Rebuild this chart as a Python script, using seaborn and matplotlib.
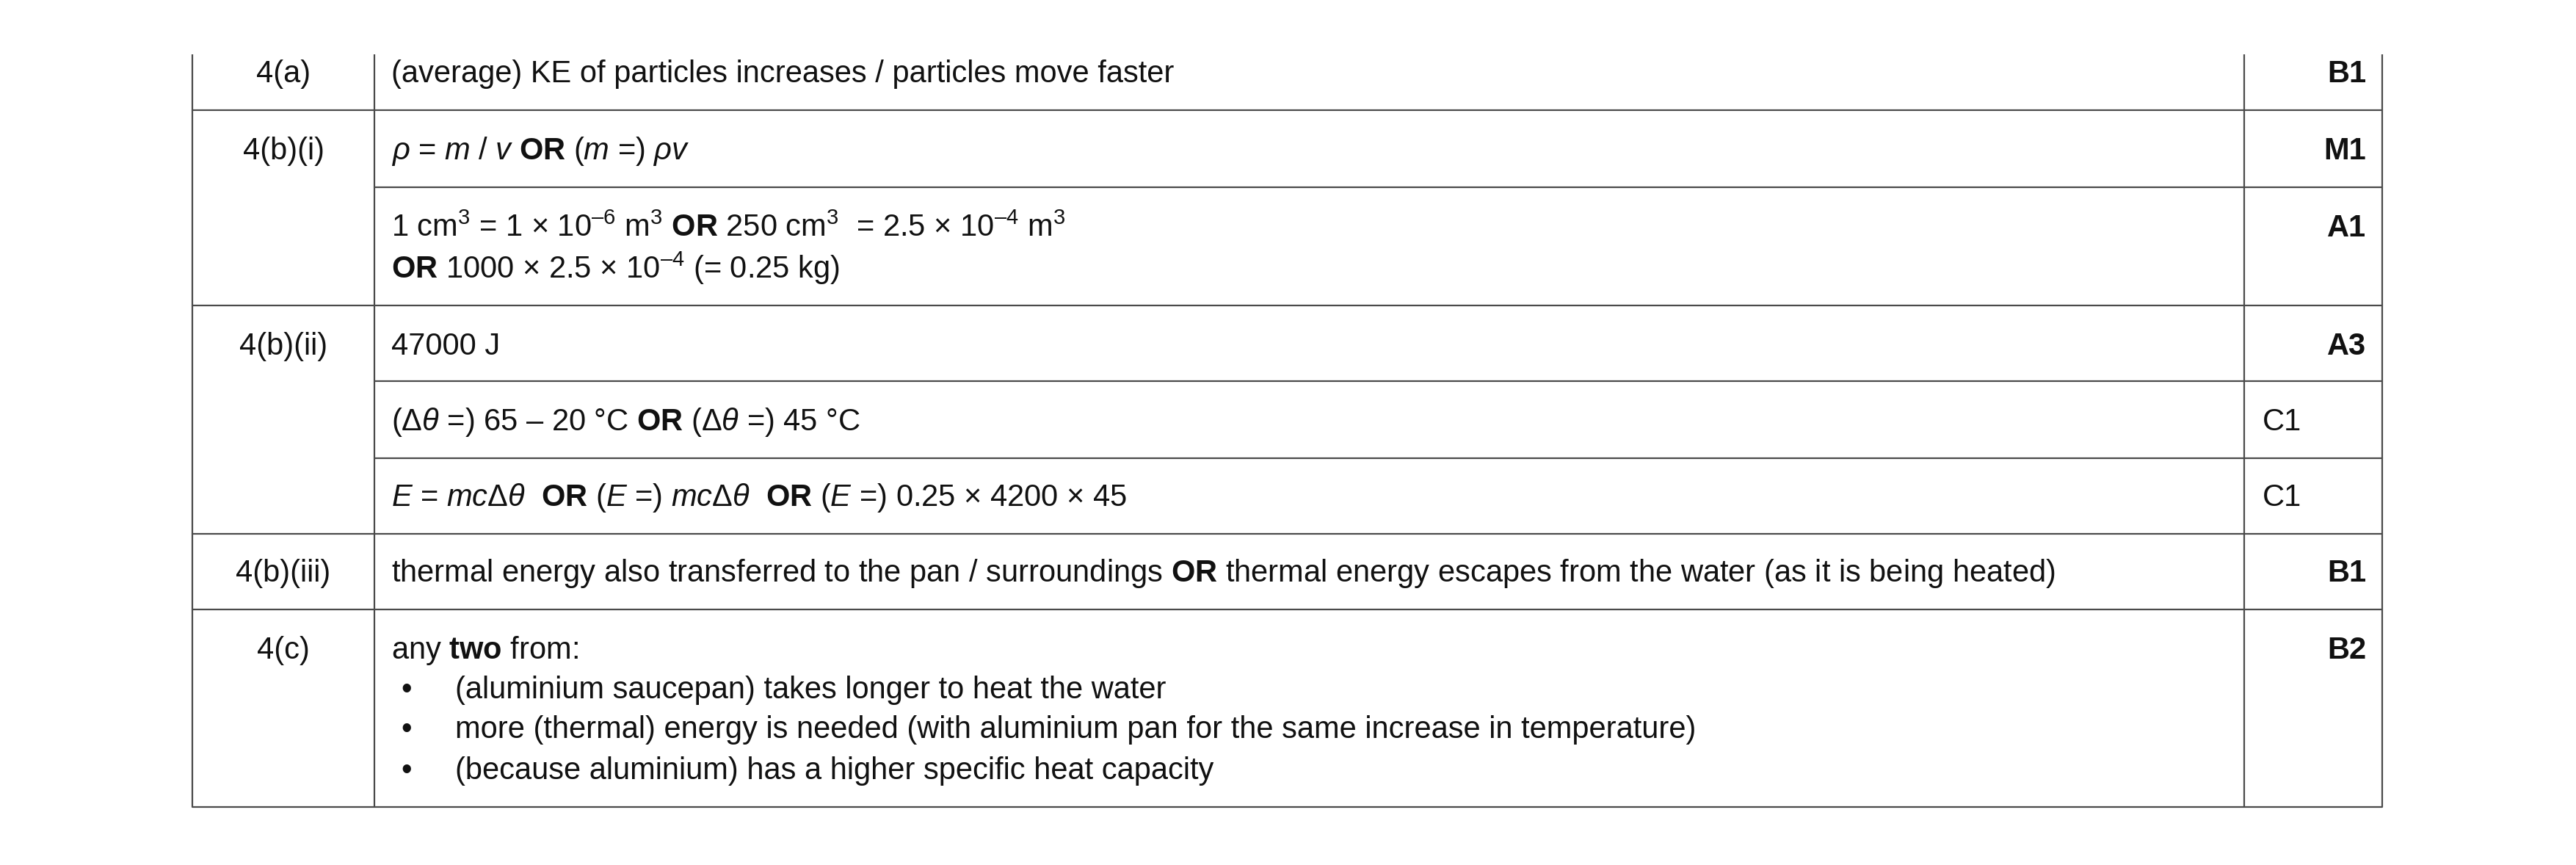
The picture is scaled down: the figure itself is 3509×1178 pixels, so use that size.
import matplotlib
matplotlib.use("Agg")
import matplotlib.pyplot as plt
import seaborn as sns

sns.set_theme(style="white")
plt.rcParams['font.family'] = ['Liberation Sans', 'DejaVu Sans']
plt.rcParams['mathtext.fontset'] = 'custom'
plt.rcParams['mathtext.rm'] = 'Liberation Sans'
plt.rcParams['mathtext.it'] = 'Liberation Sans:italic'
plt.rcParams['mathtext.bf'] = 'Liberation Sans:bold'
plt.rcParams['mathtext.default'] = 'regular'

questions = ["4(a)", "4(b)(i)", "4(b)(ii)", "4(b)(iii)", "4(c)"]
question_y = [101, 206, 472, 781, 886]

answers = [
    "(average) KE of particles increases / particles move faster",
    r"$\it{\rho}$ = $\it{m}$ / $\it{v}$ $\bf{OR}$ ($\it{m}$ =) $\it{\rho v}$",
    r"1 cm$^{3}$ = 1 × 10$^{–6}$ m$^{3}$ $\bf{OR}$ 250 cm$^{3}$  = 2.5 × 10$^{–4}$ m$^{3}$",
    r"$\bf{OR}$ 1000 × 2.5 × 10$^{–4}$ (= 0.25 kg)",
    "47000 J",
    r"(Δ$\it{\theta}$ =) 65 – 20 °C $\bf{OR}$ (Δ$\it{\theta}$ =) 45 °C",
    r"$\it{E}$ = $\it{mc}$Δ$\it{\theta}$  $\bf{OR}$ ($\it{E}$ =) $\it{mc}$Δ$\it{\theta}$  $\bf{OR}$ ($\it{E}$ =) 0.25 × 4200 × 45",
    r"thermal energy also transferred to the pan / surroundings $\bf{OR}$ thermal energy escapes from the water (as it is being heated)",
    r"any $\bf{two}$ from:",
]
answer_y = [101, 206, 311, 365, 472, 575, 678, 781, 886]

bullets = [
    "(aluminium saucepan) takes longer to heat the water",
    "more (thermal) energy is needed (with aluminium pan for the same increase in temperature)",
    "(because aluminium) has a higher specific heat capacity",
]
bullet_y = [940, 994, 1050]

marks = ["B1", "M1", "A1", "A3", "C1", "C1", "B1", "B2"]
marks_y = [101, 206, 311, 472, 575, 678, 781, 886]
marks_bold = [True, True, True, True, False, False, True, True]

W, H = 3509, 1178
fig = plt.figure(figsize=(W / 100, H / 100), dpi=100)
ax = fig.add_axes([0, 0, 1, 1])
ax.set_xlim(0, W)
ax.set_ylim(H, 0)
ax.axis("off")

xl, xc1, xc2, xr = 262, 510, 3057, 3245
ytop, ybot = 74, 1099
lc = "#4a4a4a"
lw = 1.6
for x in [xl, xc1, xc2, xr]:
    ax.plot([x, x], [ytop, ybot], color=lc, lw=lw, solid_capstyle="butt")
for y in [150, 416, 727, 830, 1099]:
    ax.plot([xl, xr], [y, y], color=lc, lw=lw)
for y in [255, 519, 624]:
    ax.plot([xc1, xr], [y, y], color=lc, lw=lw)

fs = 30
for q, y in zip(questions, question_y):
    ax.text(386, y, q, fontsize=fs, ha="center", va="center", color="#111")
for a, y in zip(answers, answer_y):
    ax.text(533, y, a, fontsize=fs, ha="left", va="center", color="#111")
for b, y in zip(bullets, bullet_y):
    ax.text(546, y, "•", fontsize=fs, ha="left", va="center", color="#111")
    ax.text(620, y, b, fontsize=fs, ha="left", va="center", color="#111")
for m, y, bold in zip(marks, marks_y, marks_bold):
    if bold:
        ax.text(3223, y, m, fontsize=fs, ha="right", va="center",
                fontweight="bold", color="#111")
    else:
        ax.text(3082, y, m, fontsize=fs, ha="left", va="center", color="#111")

fig.savefig("out.png", dpi=100, facecolor="white")
